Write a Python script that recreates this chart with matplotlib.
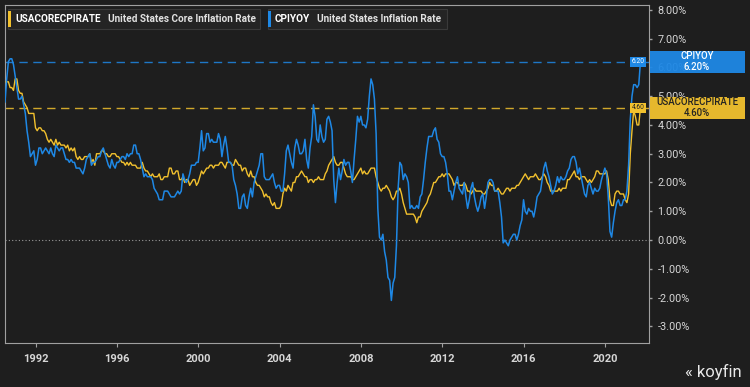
import numpy as np
import matplotlib
matplotlib.use("Agg")
import matplotlib.pyplot as plt
from matplotlib.patches import Rectangle

plt.rcParams["font.family"] = ["Roboto", "DejaVu Sans"]

# ── Data: monthly YoY %, Jul 1990 – Oct 2021 ──────────────
START_YEAR, START_MONTH = 1990, 7

cpi_yoy = [
    4.8, 5.6, 6.2, 6.3, 6.3, 6.1,
    5.7, 5.3, 4.9, 4.9, 5.0, 4.7, 4.4, 3.8, 3.4, 2.9, 3.0, 3.1,
    2.6, 2.8, 3.2, 3.2, 3.0, 3.1, 3.2, 3.1, 3.0, 3.2, 3.0, 2.9,
    3.3, 3.2, 3.1, 3.2, 3.2, 3.0, 2.8, 2.8, 2.7, 2.8, 2.7, 2.7,
    2.5, 2.5, 2.5, 2.4, 2.3, 2.5, 2.8, 2.9, 3.0, 2.6, 2.7, 2.7,
    2.8, 2.9, 2.9, 3.1, 3.2, 3.0, 2.8, 2.6, 2.5, 2.8, 2.6, 2.5,
    2.7, 2.7, 2.8, 2.9, 2.9, 2.8, 3.0, 2.9, 3.0, 3.0, 3.3, 3.3,
    3.0, 3.0, 2.8, 2.5, 2.2, 2.3, 2.2, 2.2, 2.2, 2.1, 1.8, 1.7,
    1.6, 1.4, 1.4, 1.4, 1.7, 1.7, 1.7, 1.6, 1.5, 1.5, 1.5, 1.6,
    1.7, 1.6, 1.7, 2.3, 2.1, 2.0, 2.1, 2.3, 2.6, 2.6, 2.6, 2.7,
    2.7, 3.2, 3.8, 3.1, 3.2, 3.7, 3.7, 3.4, 3.5, 3.4, 3.4, 3.4,
    3.7, 3.5, 2.9, 3.3, 3.6, 3.2, 2.7, 2.7, 2.6, 2.1, 1.9, 1.6,
    1.1, 1.1, 1.5, 1.6, 1.2, 1.1, 1.5, 1.8, 1.5, 2.0, 2.2, 2.4,
    2.6, 3.0, 3.0, 2.2, 2.1, 2.1, 2.1, 2.2, 2.3, 2.0, 1.8, 1.9,
    1.9, 1.7, 1.7, 2.3, 3.1, 3.3, 3.0, 2.7, 2.5, 3.2, 3.5, 3.3,
    3.0, 3.0, 3.1, 3.5, 2.8, 2.5, 3.2, 3.6, 4.7, 4.3, 3.5, 3.4,
    4.0, 3.6, 3.4, 3.5, 4.2, 4.3, 4.1, 3.8, 2.1, 1.3, 2.0, 2.5,
    2.1, 2.4, 2.8, 2.6, 2.7, 2.7, 2.4, 2.0, 2.8, 3.5, 4.3, 4.1,
    4.3, 4.0, 4.0, 3.9, 4.2, 5.0, 5.6, 5.4, 4.9, 3.7, 1.1, 0.1,
    0.0, 0.2, -0.4, -0.7, -1.3, -1.4, -2.1, -1.5, -1.3, -0.2, 1.8, 2.7,
    2.6, 2.1, 2.3, 2.2, 2.0, 1.1, 1.2, 1.1, 1.1, 1.2, 1.1, 1.5,
    1.6, 2.1, 2.7, 3.2, 3.6, 3.6, 3.6, 3.8, 3.9, 3.5, 3.4, 3.0,
    2.9, 2.9, 2.7, 2.3, 1.7, 1.7, 1.4, 1.7, 2.0, 2.2, 1.8, 1.7,
    1.6, 2.0, 1.5, 1.1, 1.4, 1.8, 2.0, 1.5, 1.2, 1.0, 1.2, 1.5,
    1.6, 1.1, 1.5, 2.0, 2.1, 2.1, 2.0, 1.7, 1.7, 1.7, 1.3, 0.8,
    -0.1, 0.0, -0.1, -0.2, 0.0, 0.1, 0.2, 0.2, 0.0, 0.2, 0.5, 0.7,
    1.4, 1.0, 0.9, 1.1, 1.0, 1.0, 0.8, 1.1, 1.5, 1.6, 1.7, 2.1,
    2.5, 2.7, 2.4, 2.2, 1.9, 1.6, 1.7, 1.9, 2.2, 2.0, 2.2, 2.1,
    2.1, 2.2, 2.4, 2.5, 2.8, 2.9, 2.9, 2.7, 2.3, 2.5, 2.2, 1.9,
    1.6, 1.5, 1.9, 2.0, 1.8, 1.6, 1.8, 1.7, 1.7, 1.8, 2.1, 2.3,
    2.5, 2.3, 1.5, 0.3, 0.1, 0.6, 1.0, 1.3, 1.4, 1.2, 1.2, 1.4,
    1.4, 1.7, 2.6, 4.2, 5.0, 5.4, 5.4, 5.3, 5.4, 6.2,
]

core_yoy = [
    5.5, 5.5, 5.5, 5.3, 5.3, 5.2,
    5.6, 5.6, 5.2, 5.1, 5.1, 4.8, 4.7, 4.6, 4.4, 4.4, 4.4, 4.4,
    3.9, 3.8, 3.9, 3.9, 3.8, 3.8, 3.7, 3.5, 3.4, 3.5, 3.4, 3.3,
    3.5, 3.3, 3.4, 3.3, 3.3, 3.3, 3.2, 3.3, 3.1, 3.2, 3.1, 3.2,
    2.9, 2.8, 2.9, 2.8, 2.8, 2.9, 2.9, 2.9, 3.0, 2.7, 2.8, 2.6,
    3.0, 3.0, 3.0, 3.1, 3.1, 3.0, 3.0, 2.9, 2.9, 3.0, 3.0, 3.0,
    2.9, 2.9, 2.8, 2.7, 2.7, 2.6, 2.7, 2.6, 2.7, 2.6, 2.6, 2.6,
    2.5, 2.5, 2.5, 2.7, 2.5, 2.4, 2.4, 2.3, 2.2, 2.3, 2.2, 2.2,
    2.2, 2.3, 2.1, 2.1, 2.2, 2.2, 2.2, 2.5, 2.5, 2.3, 2.3, 2.4,
    2.4, 2.1, 2.1, 2.2, 2.0, 2.1, 2.1, 1.9, 2.0, 2.1, 2.1, 1.9,
    2.0, 2.2, 2.4, 2.3, 2.4, 2.5, 2.5, 2.6, 2.6, 2.5, 2.6, 2.6,
    2.6, 2.7, 2.7, 2.6, 2.5, 2.7, 2.7, 2.7, 2.6, 2.6, 2.8, 2.7,
    2.6, 2.6, 2.4, 2.5, 2.5, 2.3, 2.2, 2.4, 2.2, 2.2, 2.0, 1.9,
    1.9, 1.8, 1.7, 1.5, 1.6, 1.5, 1.5, 1.3, 1.2, 1.3, 1.1, 1.1,
    1.1, 1.2, 1.6, 1.8, 1.7, 1.9, 1.8, 1.7, 2.0, 2.0, 2.2, 2.2,
    2.3, 2.4, 2.3, 2.2, 2.2, 2.0, 2.1, 2.1, 2.0, 2.1, 2.1, 2.2,
    2.1, 2.1, 2.1, 2.3, 2.4, 2.6, 2.7, 2.8, 2.9, 2.7, 2.6, 2.6,
    2.7, 2.7, 2.5, 2.3, 2.2, 2.2, 2.2, 2.1, 2.1, 2.2, 2.3, 2.4,
    2.5, 2.3, 2.4, 2.3, 2.3, 2.4, 2.5, 2.5, 2.5, 2.2, 2.0, 1.8,
    1.7, 1.8, 1.8, 1.9, 1.8, 1.7, 1.5, 1.4, 1.5, 1.7, 1.7, 1.8,
    1.6, 1.3, 1.1, 0.9, 0.9, 0.9, 0.9, 0.9, 0.8, 0.6, 0.8, 0.8,
    1.0, 1.1, 1.2, 1.3, 1.5, 1.6, 1.8, 2.0, 2.0, 2.1, 2.2, 2.2,
    2.3, 2.2, 2.3, 2.3, 2.3, 2.2, 2.1, 1.9, 2.0, 2.0, 1.9, 1.9,
    1.9, 2.0, 1.9, 1.7, 1.7, 1.6, 1.7, 1.8, 1.7, 1.7, 1.7, 1.7,
    1.6, 1.6, 1.7, 1.8, 2.0, 1.9, 1.9, 1.7, 1.7, 1.8, 1.7, 1.6,
    1.6, 1.7, 1.8, 1.8, 1.7, 1.8, 1.8, 1.8, 1.9, 1.9, 2.0, 2.1,
    2.2, 2.3, 2.2, 2.1, 2.2, 2.2, 2.2, 2.3, 2.2, 2.1, 2.1, 2.2,
    2.3, 2.2, 2.0, 1.9, 1.7, 1.7, 1.7, 1.7, 1.7, 1.8, 1.7, 1.8,
    1.8, 1.8, 2.1, 2.1, 2.2, 2.3, 2.4, 2.2, 2.2, 2.1, 2.2, 2.2,
    2.2, 2.1, 2.0, 2.1, 2.0, 2.1, 2.2, 2.4, 2.4, 2.3, 2.3, 2.3,
    2.3, 2.4, 2.1, 1.4, 1.2, 1.2, 1.6, 1.7, 1.7, 1.6, 1.6, 1.6,
    1.4, 1.3, 1.6, 3.0, 3.8, 4.5, 4.3, 4.0, 4.0, 4.6,
]

year_ticks = [1992, 1996, 2000, 2004, 2008, 2012, 2016, 2020]
pct_ticks = [-3, -2, -1, 0, 1, 2, 3, 4, 5, 6, 7, 8]

BG = "#1e1e1e"
BLUE = "#1e88e5"
YELLOW = "#f2c12e"
TXT = "#d6d6d6"

t = START_YEAR + (START_MONTH - 1) / 12 + np.arange(len(cpi_yoy)) / 12
tc = START_YEAR + (START_MONTH - 1) / 12 + np.arange(len(core_yoy)) / 12

fig = plt.figure(figsize=(7.5, 3.87), dpi=100, facecolor=BG)
ax = fig.add_axes([5 / 750, 44 / 387, 644 / 750, 338 / 387])
ax.set_facecolor(BG)

ax.plot(tc, core_yoy, color=YELLOW, lw=1.0, zorder=3)
ax.plot(t, cpi_yoy, color=BLUE, lw=1.1, zorder=4)

# last-value reference lines
ax.axhline(cpi_yoy[-1], color=BLUE, lw=1.0, ls=(0, (6, 4)), alpha=0.85, zorder=2)
ax.axhline(core_yoy[-1], color=YELLOW, lw=1.0, ls=(0, (6, 4)), alpha=0.85, zorder=2)
ax.axhline(0, color="#9a9a9a", lw=0.8, ls=(0, (1, 2)), zorder=1)

ax.set_xlim(1990.5, 2022.17)
ax.set_ylim(-3.58, 8.17)

for s in ax.spines.values():
    s.set_color("#a0a0a0")
    s.set_linewidth(0.8)

ax.set_xticks(year_ticks)
ax.set_xticklabels([str(y) for y in year_ticks])
ax.tick_params(axis="x", colors="#a0a0a0", labelcolor=TXT, length=3, width=0.8,
               labelsize=8, pad=5)
for lab in ax.get_xticklabels():
    lab.set_fontweight("bold")

ax.yaxis.tick_right()
ax.set_yticks(pct_ticks)
ax.set_yticklabels([f"{v:.2f}%" for v in pct_ticks])
ax.tick_params(axis="y", colors="#a0a0a0", labelcolor=TXT, length=2, width=1,
               labelsize=7.8, pad=4)

# small value tags at the right edge of the plot
for val, col, txtcol in ((cpi_yoy[-1], BLUE, "white"), (core_yoy[-1], YELLOW, "#222222")):
    ax.annotate(f"{val:.2f}", xy=(1, val), xycoords=("axes fraction", "data"),
                xytext=(-8, 0), textcoords="offset points", ha="center", va="center",
                fontsize=4.8, color=txtcol, zorder=6,
                bbox=dict(boxstyle="square,pad=0.25", fc=col, ec="none"))

# large labels outside the axis (they sit over the tick labels, as in the source)
def side_label(val, name, col, txtcol):
    y = ax.transData.transform((0, val))[1] / fig.bbox.height
    h = 22 / 387
    fig.patches.append(Rectangle((650 / 750, y - h / 2), 95 / 750, h,
                                 transform=fig.transFigure, fc=col, ec="none",
                                 alpha=0.95, zorder=5))
    fig.text(697 / 750, y, f"{name}\n{val:.2f}%", ha="center", va="center",
             fontsize=6.9, color=txtcol, fontweight="medium", linespacing=1.05, zorder=6)

side_label(cpi_yoy[-1], "CPIYOY", BLUE, "white")
side_label(core_yoy[-1], "USACORECPIRATE", YELLOW, "#222222")

# legend chips at the top
def legend_chip(x0, w, col, code, desc):
    fig.patches.append(Rectangle((x0 / 750, 1 - 29 / 387), w / 750, 20 / 387,
                                 transform=fig.transFigure, fc="#242424",
                                 ec="#3a3a3a", lw=0.8, zorder=5))
    fig.patches.append(Rectangle((x0 / 750, 1 - 27 / 387), 2.5 / 750, 16 / 387,
                                 transform=fig.transFigure, fc=col, ec="none", zorder=6))
    tx = fig.text((x0 + 7) / 750, 1 - 19 / 387, code, ha="left", va="center",
                  fontsize=7.2, color="white", fontweight="bold", zorder=7)
    fig.canvas.draw()
    bb = tx.get_window_extent()
    fig.text((bb.x1 + 7) / 750, 1 - 19 / 387, desc, ha="left", va="center",
             fontsize=7.2, color="#e0e0e0", fontweight="bold", zorder=7)

legend_chip(8, 252, YELLOW, "USACORECPIRATE", "United States Core Inflation Rate")
legend_chip(268, 179, BLUE, "CPIYOY", "United States Inflation Rate")

fig.text(742 / 750, 1 - 372 / 387, "\u00ab koyfin", ha="right", va="center",
         fontsize=12, color="#e8e8e8")

fig.savefig("out.png", dpi=100, facecolor=BG)
